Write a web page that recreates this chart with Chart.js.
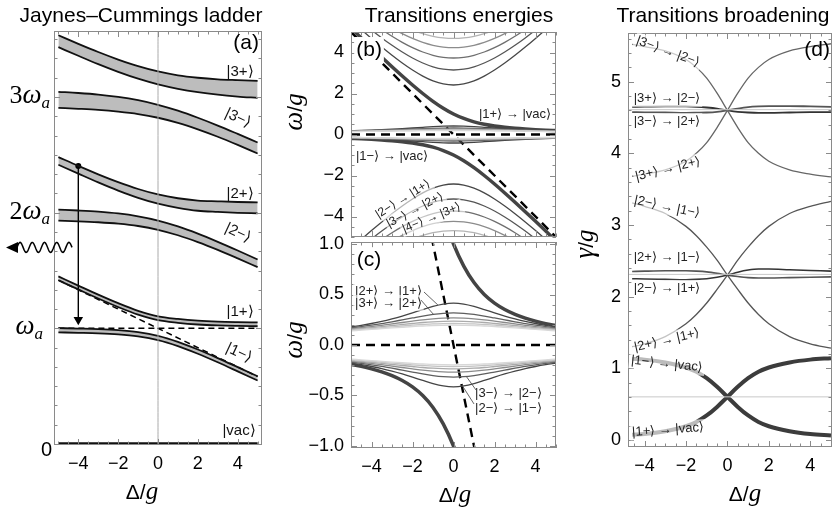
<!DOCTYPE html>
<html>
<head>
<meta charset="utf-8">
<script src="https://cdn.jsdelivr.net/npm/chart.js@4.4.1/dist/chart.umd.min.js"></script>
<style>
  body { margin: 0; background: #fff; }
  #wrap { position: relative; width: 835px; height: 510px; overflow: hidden; }
  canvas { position: absolute; }
</style>
</head>
<body>
<div id="wrap">
  <canvas id="ladder" width="280" height="510" style="left:0;top:0"></canvas>
  <canvas id="energiesWide" width="295" height="240" style="left:280px;top:0"></canvas>
  <canvas id="energiesZoom" width="295" height="284" style="left:280px;top:226px"></canvas>
  <canvas id="broadening" width="260" height="510" style="left:575px;top:0"></canvas>
</div>
<script>
const SANS = "'Liberation Sans', Arial, sans-serif";
const SERIF = "'Liberation Serif', 'Times New Roman', serif";
const MINUS = "\u2212";

// ---- (a) Jaynes–Cummings ladder: band edges in units of g (omega_a = 12 g) ----
const omegaA = 12;
const detA = [-5, -4, -3, -2, -1, 0, 1, 2, 3, 4, 5];
const up3p = [42.41, 41.52, 40.67, 39.89, 39.20, 38.65, 38.25, 38.00, 37.84, 37.75, 37.67];
const lo3p = [41.17, 40.28, 39.41, 38.61, 37.90, 37.31, 36.85, 36.50, 36.24, 36.05, 35.91];
const up3m = [36.54, 36.42, 36.26, 36.02, 35.67, 35.19, 34.58, 33.85, 33.04, 32.17, 31.28];
const lo3m = [34.88, 34.78, 34.66, 34.48, 34.23, 33.85, 33.32, 32.65, 31.88, 31.03, 30.14];
const up2p = [29.77, 28.85, 27.98, 27.17, 26.46, 25.89, 25.50, 25.26, 25.18, 25.11, 25.07];
const lo2p = [28.97, 28.05, 27.14, 26.29, 25.54, 24.93, 24.50, 24.20, 24.08, 23.99, 23.93];
const up2m = [24.32, 24.23, 24.11, 23.92, 23.62, 23.19, 22.58, 21.83, 20.98, 20.08, 19.15];
const lo2m = [23.18, 23.11, 23.01, 22.86, 22.62, 22.23, 21.66, 20.95, 20.14, 19.26, 18.35];
const up1p = [17.39, 16.44, 15.50, 14.61, 13.82, 13.25, 12.98, 12.80, 12.70, 12.65, 12.62];
const lo1p = [16.99, 16.04, 15.10, 14.21, 13.42, 12.85, 12.58, 12.40, 12.30, 12.25, 12.22];
const up1m = [12.03, 11.98, 11.92, 11.81, 11.60, 11.22, 10.60, 9.81, 8.92, 7.98, 7.03];
const lo1m = [11.59, 11.54, 11.48, 11.37, 11.16, 10.78, 10.16, 9.37, 8.48, 7.54, 6.59];
const endsA = [-5, 5];
const vacA = [0, 0];
const atomA = [12, 12];
const cavityA = [17, 7];
const dropX = [-4, -4];
const dropY = [28.85, 12.9];

// ---- (b),(c) transition energies omega/g ----
const detB = [-5, -4.5, -4, -3.5, -3, -2.5, -2, -1.5, -1, -0.5, 0, 0.5, 1, 1.5, 2, 2.5, 3, 3.5, 4, 4.5, 5];
const oneUp = [5.193, 4.712, 4.236, 3.766, 3.303, 2.851, 2.414, 2.000, 1.618, 1.281, 1.000, 0.781, 0.618, 0.500, 0.414, 0.351, 0.303, 0.266, 0.236, 0.212, 0.193];
const oneDown = [-0.193, -0.212, -0.236, -0.266, -0.303, -0.351, -0.414, -0.500, -0.618, -0.781, -1.000, -1.281, -1.618, -2.000, -2.414, -2.851, -3.303, -3.766, -4.236, -4.712, -5.193];
const cross2 = [5.565, 5.120, 4.686, 4.266, 3.864, 3.488, 3.146, 2.851, 2.618, 2.467, 2.414, 2.467, 2.618, 2.851, 3.146, 3.488, 3.864, 4.266, 4.686, 5.120, 5.565];
const cross3 = [5.914, 5.497, 5.095, 4.712, 4.353, 4.024, 3.732, 3.488, 3.303, 3.186, 3.146, 3.186, 3.303, 3.488, 3.732, 4.024, 4.353, 4.712, 5.095, 5.497, 5.914];
const cross4 = [6.243, 5.850, 5.474, 5.120, 4.791, 4.495, 4.236, 4.024, 3.864, 3.766, 3.732, 3.766, 3.864, 4.024, 4.236, 4.495, 4.791, 5.120, 5.474, 5.850, 6.243];
const cross5 = [6.556, 6.183, 5.828, 5.497, 5.193, 4.920, 4.686, 4.495, 4.353, 4.266, 4.236, 4.266, 4.353, 4.495, 4.686, 4.920, 5.193, 5.497, 5.828, 6.183, 6.556];
const cross6 = [6.854, 6.498, 6.162, 5.850, 5.565, 5.312, 5.095, 4.920, 4.791, 4.712, 4.686, 4.712, 4.791, 4.920, 5.095, 5.312, 5.565, 5.850, 6.162, 6.498, 6.854];
const same2 = [0.180, 0.195, 0.213, 0.234, 0.259, 0.287, 0.318, 0.351, 0.382, 0.405, 0.414, 0.405, 0.382, 0.351, 0.318, 0.287, 0.259, 0.234, 0.213, 0.195, 0.180];
const same3 = [0.169, 0.182, 0.196, 0.212, 0.230, 0.249, 0.268, 0.287, 0.303, 0.314, 0.318, 0.314, 0.303, 0.287, 0.268, 0.249, 0.230, 0.212, 0.196, 0.182, 0.169];
const same4 = [0.160, 0.171, 0.183, 0.195, 0.209, 0.223, 0.236, 0.249, 0.259, 0.266, 0.268, 0.266, 0.259, 0.249, 0.236, 0.223, 0.209, 0.195, 0.183, 0.171, 0.160];
const same5 = [0.153, 0.162, 0.172, 0.182, 0.193, 0.203, 0.213, 0.223, 0.230, 0.234, 0.236, 0.234, 0.230, 0.223, 0.213, 0.203, 0.193, 0.182, 0.172, 0.162, 0.153];
const same6 = [0.146, 0.154, 0.162, 0.171, 0.180, 0.188, 0.196, 0.203, 0.209, 0.212, 0.213, 0.212, 0.209, 0.203, 0.196, 0.188, 0.180, 0.171, 0.162, 0.154, 0.146];
const same7 = [0.140, 0.147, 0.154, 0.162, 0.169, 0.176, 0.183, 0.188, 0.193, 0.195, 0.196, 0.195, 0.193, 0.188, 0.183, 0.176, 0.169, 0.162, 0.154, 0.147, 0.140];
const endsB = [-5, 5];
const atomB = [0, 0];
const cavityB = [5, -5];

// ---- (d) transition broadening gamma/g ----
const detD = [-4.6, -4, -3, -2, -1.5, -1, -0.5, 0, 0.5, 1, 1.5, 2, 3, 4, 5];
const w1p = [0.07, 0.08, 0.12, 0.19, 0.25, 0.34, 0.46, 0.60, 0.74, 0.86, 0.95, 1.01, 1.08, 1.12, 1.14];
const w1m = [1.13, 1.12, 1.08, 1.01, 0.95, 0.86, 0.74, 0.60, 0.46, 0.34, 0.25, 0.19, 0.12, 0.08, 0.06];
const w2pp = [1.30, 1.34, 1.44, 1.62, 1.75, 1.91, 2.10, 2.30, 2.51, 2.69, 2.85, 2.98, 3.16, 3.26, 3.33];
const w2mm = [3.31, 3.26, 3.16, 2.98, 2.85, 2.69, 2.51, 2.30, 2.10, 1.91, 1.75, 1.62, 1.44, 1.34, 1.28];
const w2pm = [2.35, 2.355, 2.36, 2.36, 2.355, 2.345, 2.325, 2.30, 2.28, 2.265, 2.26, 2.26, 2.265, 2.27, 2.275];
const w2mp = [2.25, 2.245, 2.24, 2.235, 2.24, 2.25, 2.27, 2.30, 2.34, 2.37, 2.385, 2.385, 2.375, 2.365, 2.355];
const w3pp = [3.68, 3.71, 3.77, 3.89, 4.00, 4.15, 4.36, 4.60, 4.84, 5.05, 5.20, 5.31, 5.43, 5.49, 5.53];
const w3mm = [5.52, 5.49, 5.43, 5.31, 5.20, 5.05, 4.84, 4.60, 4.36, 4.15, 4.00, 3.89, 3.77, 3.71, 3.67];
const w3pm = [4.65, 4.652, 4.655, 4.655, 4.65, 4.64, 4.625, 4.60, 4.58, 4.57, 4.565, 4.565, 4.57, 4.575, 4.575];
const w3mp = [4.575, 4.572, 4.57, 4.565, 4.567, 4.57, 4.58, 4.60, 4.625, 4.645, 4.655, 4.66, 4.66, 4.655, 4.65];
const endsD = [-4.8, 5.05];
const mean1 = [0.60, 0.60];
const mean2 = [2.31, 2.31];
const mean3 = [4.61, 4.61];

// ---------- helpers ----------
function pts(xs, ys) { return xs.map((x, i) => ({ x: x, y: ys[i] })); }
function line(xs, ys, color, width, extra) {
  return Object.assign({
    data: pts(xs, ys), borderColor: color, borderWidth: width,
    pointRadius: 0, fill: false, cubicInterpolationMode: 'monotone'
  }, extra || {});
}
function mirror(arr) { return arr.map(v => -v); } // lower family is the mirror image of the upper one
function fmt(v) { return (v < -1e-9 ? MINUS : '') + Math.abs(v); }
function evenLabel(v) {
  const r = Math.round(v);
  return (Math.abs(v - r) < 1e-6 && r % 2 === 0) ? fmt(r) : '';
}

function frame(chart, xt, yt) {
  const { ctx, chartArea: a, scales: { x, y } } = chart;
  ctx.save();
  ctx.strokeStyle = '#8a8a8a';
  ctx.lineWidth = 1;
  ctx.strokeRect(a.left + 0.5, a.top + 0.5, a.right - a.left - 1, a.bottom - a.top - 1);
  ctx.beginPath();
  const marks = (scale, minor, major, horiz) => {
    const k0 = Math.ceil(scale.min / minor - 1e-9), k1 = Math.floor(scale.max / minor + 1e-9);
    for (let k = k0; k <= k1; k++) {
      const v = k * minor;
      const big = Math.abs(v / major - Math.round(v / major)) < 1e-6;
      const len = big ? 6 : 3.5;
      const p = Math.round(scale.getPixelForValue(v)) + 0.5;
      if (horiz) {
        ctx.moveTo(p, a.bottom); ctx.lineTo(p, a.bottom - len);
        ctx.moveTo(p, a.top); ctx.lineTo(p, a.top + len);
      } else {
        ctx.moveTo(a.left, p); ctx.lineTo(a.left + len, p);
        ctx.moveTo(a.right, p); ctx.lineTo(a.right - len, p);
      }
    }
  };
  marks(x, xt[0], xt[1], true);
  marks(y, yt[0], yt[1], false);
  ctx.stroke();
  ctx.restore();
}

function ket(chart, text, xv, yv, opt) {
  const { ctx, scales: { x, y } } = chart;
  const o = Object.assign({ size: 13, angle: 0, align: 'center', bg: null, color: '#222' }, opt || {});
  ctx.save();
  ctx.translate(x.getPixelForValue(xv), y.getPixelForValue(yv));
  ctx.rotate(o.angle * Math.PI / 180);
  ctx.font = o.size + 'px ' + SANS;
  const w = ctx.measureText(text).width;
  const x0 = o.align === 'left' ? 0 : -w / 2;
  if (o.bg) {
    ctx.fillStyle = o.bg;
    ctx.fillRect(x0 - 2, -o.size * 0.62, w + 4, o.size * 1.24);
  }
  ctx.fillStyle = o.color;
  ctx.textBaseline = 'middle';
  ctx.textAlign = 'left';
  ctx.fillText(text, x0, 0);
  ctx.restore();
}

function leader(chart, p0, p1) {
  const { ctx, scales: { x, y } } = chart;
  ctx.save();
  ctx.strokeStyle = '#555';
  ctx.lineWidth = 0.9;
  ctx.beginPath();
  ctx.moveTo(x.getPixelForValue(p0[0]), y.getPixelForValue(p0[1]));
  ctx.lineTo(x.getPixelForValue(p1[0]), y.getPixelForValue(p1[1]));
  ctx.stroke();
  ctx.restore();
}

function mixed(ctx, parts, px, py, align, angle) {
  ctx.save();
  ctx.translate(px, py);
  if (angle) ctx.rotate(angle);
  let w = 0;
  parts.forEach(p => { ctx.font = p[1]; w += ctx.measureText(p[0]).width; });
  let cx = align === 'right' ? -w : (align === 'center' ? -w / 2 : 0);
  ctx.fillStyle = '#000';
  ctx.textBaseline = 'alphabetic';
  ctx.textAlign = 'left';
  parts.forEach(p => {
    ctx.font = p[1];
    ctx.fillText(p[0], cx, p[2] || 0);
    cx += ctx.measureText(p[0]).width;
  });
  ctx.restore();
}

function title(ctx, text, cx) {
  ctx.save();
  ctx.font = '21px ' + SANS;
  ctx.fillStyle = '#000';
  ctx.textAlign = 'center';
  ctx.textBaseline = 'alphabetic';
  ctx.fillText(text, cx, 22);
  ctx.restore();
}

const deltaTitle = [['\u0394/', '21px ' + SANS], ['g', 'italic 25px ' + SERIF]];
function perG(sym) { return [[sym, 'italic 27px ' + SERIF], ['/', '21px ' + SANS], ['g', 'italic 25px ' + SERIF]]; }

function options(o) {
  return {
    responsive: false, animation: false, events: [],
    layout: { padding: o.pad },
    plugins: {
      legend: { display: false }, tooltip: { enabled: false },
      filler: { drawTime: 'beforeDatasetsDraw', propagate: false }
    },
    scales: {
      x: {
        type: 'linear', min: o.x[0], max: o.x[1], display: o.xShow,
        grid: { display: false, drawTicks: false }, border: { display: false },
        ticks: {
          stepSize: o.x[2], includeBounds: false, autoSkip: false, maxRotation: 0,
          padding: 8, color: '#000', font: { family: SANS, size: 18 }, callback: evenLabel
        },
        afterFit: s => { if (o.xH) s.height = o.xH; s.paddingLeft = 0; s.paddingRight = 0; }
      },
      y: {
        type: 'linear', min: o.y[0], max: o.y[1],
        grid: { display: false, drawTicks: false }, border: { display: false },
        ticks: {
          display: !!o.yLabel, stepSize: o.y[2], includeBounds: false, autoSkip: false,
          padding: 7, color: '#000', font: { family: SANS, size: 18 }, callback: o.yLabel || (() => '')
        },
        afterFit: s => { s.width = o.yW; s.paddingTop = 0; s.paddingBottom = 0; }
      }
    }
  };
}

// ---------- (a) ladder ----------
const bandEdge = '#111';
function band(lo, up) {
  return [
    line(detA, lo, bandEdge, 1.8),
    line(detA, up, bandEdge, 1.8, { fill: '-1', backgroundColor: '#bdbdbd' })
  ];
}
const ladderSets = [
  line([0, 0], [-0.1, 42.85], '#aaa', 1),
  line(endsA, vacA, '#111', 3.5),
  ...band(lo3p, up3p), ...band(lo3m, up3m),
  ...band(lo2p, up2p), ...band(lo2m, up2m),
  ...band(lo1p, up1p), ...band(lo1m, up1m),
  line(endsA, atomA, '#000', 1.5, { borderDash: [6, 4] }),
  line(endsA, cavityA, '#000', 1.5, { borderDash: [6, 4] }),
  line(dropX, dropY, '#000', 1.4, {
    pointRadius: [3, 5.5], pointStyle: ['circle', 'triangle'], pointRotation: [0, 180],
    pointBackgroundColor: '#000', pointBorderColor: '#000', pointBorderWidth: 0
  })
];

const ladderDeco = {
  id: 'ladderDeco',
  afterDatasetsDraw(chart) {
    const { ctx, chartArea: a, scales: { y } } = chart;
    frame(chart, [0.5, 2], [2, 12]);
    // energy axis labels
    [[3, '3'], [2, '2'], [1, '']].forEach(([n, pre]) => {
      const parts = [];
      if (pre) parts.push([pre, '26px ' + SERIF]);
      parts.push(['\u03C9', 'italic 27px ' + SERIF], ['a', 'italic 17px ' + SERIF, 5]);
      mixed(ctx, parts, n === 1 ? a.left - 11 : a.left - 4, y.getPixelForValue(n * omegaA) + 6, 'right');
    });
    mixed(ctx, [['0', '20px ' + SANS]], a.left - 2, y.getPixelForValue(0) + 12, 'right');
    // state labels
    const k = { size: 15, color: '#111' };
    ket(chart, '(a)', 4.42, 41.6, { size: 21, color: '#000' });
    ket(chart, '|3+\u27E9', 4.12, 38.6, k);
    ket(chart, '|3\u2212\u27E9', 4.02, 33.8, Object.assign({ angle: 25 }, k));
    ket(chart, '|2+\u27E9', 4.12, 26.0, k);
    ket(chart, '|2\u2212\u27E9', 4.02, 21.9, Object.assign({ angle: 25 }, k));
    ket(chart, '|1+\u27E9', 4.12, 13.7, k);
    ket(chart, '|1\u2212\u27E9', 4.07, 9.44, Object.assign({ angle: 25 }, k));
    ket(chart, '|vac\u27E9', 4.07, 1.35, k);
    // emitted photon
    const wy = y.getPixelForValue(20.4);
    const x0 = a.left + 18, x1 = 17, lam = (x0 - x1) / 4.5;
    ctx.save();
    ctx.strokeStyle = '#000'; ctx.fillStyle = '#000'; ctx.lineWidth = 1.5;
    ctx.beginPath();
    for (let px = x0; px >= x1; px -= 0.5) {
      const py = wy - 5 * Math.sin((x0 - px) / lam * 2 * Math.PI);
      if (px === x0) ctx.moveTo(px, py); else ctx.lineTo(px, py);
    }
    ctx.stroke();
    ctx.beginPath();
    ctx.moveTo(6, wy); ctx.lineTo(18, wy - 5.5); ctx.lineTo(18, wy + 5.5); ctx.closePath();
    ctx.fill();
    ctx.restore();
    title(ctx, 'Jaynes\u2013Cummings ladder', 141);
    mixed(ctx, deltaTitle, 142, a.bottom + 54, 'center');
  }
};

new Chart(document.getElementById('ladder'), {
  type: 'line',
  data: { datasets: ladderSets },
  options: options({ pad: { left: 0, top: 31, right: 18, bottom: 0 }, x: [-5.22, 5.22, 2], xShow: true, xH: 65, y: [-0.1, 42.85, 2], yW: 54 }),
  plugins: [ladderDeco]
});

// ---------- (b), (c) transition energies ----------
function transitionSets() {
  const sets = [];
  [[cross6, '#b4b4b4'], [cross5, '#8c8c8c'], [cross4, '#6e6e6e'], [cross3, '#555'], [cross2, '#474747']].forEach(([arr, c]) => {
    sets.push(line(detB, arr, c, 1.3), line(detB, mirror(arr), c, 1.3));
  });
  [[same7, '#d8d8d8'], [same6, '#c4c4c4'], [same5, '#ababab'], [same4, '#8a8a8a'], [same3, '#5e5e5e'], [same2, '#444']].forEach(([arr, c]) => {
    sets.push(line(detB, arr, c, 1.3), line(detB, mirror(arr), c, 1.3));
  });
  sets.push(line(detB, oneUp, '#444', 3.5), line(detB, oneDown, '#444', 3.5));
  sets.push(line(endsB, atomB, '#000', 2.4, { borderDash: [9, 6] }));
  sets.push(line(endsB, cavityB, '#000', 2.4, { borderDash: [9, 6] }));
  return sets;
}
const soft = 'rgba(255,255,255,0.6)';

const wideDeco = {
  id: 'wideDeco',
  afterDatasetsDraw(chart) {
    const { ctx } = chart;
    frame(chart, [0.5, 2], [0.5, 2]);
    ket(chart, '(b)', -4.12, 4.12, { size: 21, color: '#000', bg: '#fff' });
    ket(chart, '|1+\u27E9 \u2192 |vac\u27E9', 3.0, 1.0);
    ket(chart, '|1\u2212\u27E9 \u2192 |vac\u27E9', -3.0, -1.05);
    ket(chart, '|2\u2212\u27E9 \u2192 |1+\u27E9', -2.46, -3.15, { angle: -32, bg: soft, size: 12 });
    ket(chart, '|3\u2212\u27E9 \u2192 |2+\u27E9', -1.88, -3.68, { angle: -28, bg: soft, size: 12 });
    ket(chart, '|4\u2212\u27E9 \u2192 |3+\u27E9', -1.05, -4.07, { angle: -22, bg: soft, size: 12 });
    title(ctx, 'Transitions energies', 179);
    mixed(ctx, perG('\u03C9'), 22, 112, 'center', -Math.PI / 2);
  }
};

new Chart(document.getElementById('energiesWide'), {
  type: 'line',
  data: { datasets: transitionSets() },
  options: options({
    pad: { left: 0, top: 32, right: 19, bottom: 3 }, x: [-5, 5, 1], xShow: false,
    y: [-5, 5, 1], yW: 71, yLabel: evenLabel
  }),
  plugins: [wideDeco]
});

const zoomDeco = {
  id: 'zoomDeco',
  afterDatasetsDraw(chart) {
    const { ctx, chartArea: a } = chart;
    frame(chart, [0.5, 2], [0.1, 0.5]);
    ket(chart, '(c)', -4.12, 0.84, { size: 21, color: '#000', bg: '#fff' });
    ket(chart, '|2+\u27E9 \u2192 |1+\u27E9', -4.8, 0.535, { align: 'left', bg: soft });
    ket(chart, '|3+\u27E9 \u2192 |2+\u27E9', -4.8, 0.416, { align: 'left', bg: soft });
    leader(chart, [-1.44, 0.525], [-0.76, 0.396]);
    leader(chart, [-1.59, 0.446], [-0.95, 0.297]);
    ket(chart, '|3\u2212\u27E9 \u2192 |2\u2212\u27E9', 1.05, -0.475, { align: 'left', bg: soft });
    ket(chart, '|2\u2212\u27E9 \u2192 |1\u2212\u27E9', 1.05, -0.624, { align: 'left', bg: soft });
    leader(chart, [1.10, -0.446], [0.61, -0.307]);
    leader(chart, [1.0, -0.584], [0.41, -0.396]);
    mixed(ctx, perG('\u03C9'), 22, 114, 'center', -Math.PI / 2);
    mixed(ctx, deltaTitle, 175, a.bottom + 54, 'center');
  }
};

new Chart(document.getElementById('energiesZoom'), {
  type: 'line',
  data: { datasets: transitionSets() },
  options: options({
    pad: { left: 0, top: 16, right: 19, bottom: 0 }, x: [-5, 5, 1], xShow: true, xH: 62,
    y: [-1.02, 1.02, 0.5], yW: 71,
    yLabel: v => (Math.abs(v * 2 - Math.round(v * 2)) < 1e-6 ? (v < -1e-9 ? MINUS : '') + Math.abs(v).toFixed(1) : '')
  }),
  plugins: [zoomDeco]
});

// ---------- (d) broadening ----------
const broadSets = [
  line(endsD, mean1, '#c8c8c8', 1),
  line(endsD, mean2, '#c8c8c8', 1),
  line(endsD, mean3, '#c8c8c8', 1),
  line(detD, w3mm, '#666', 1.3),
  line(detD, w3pp, '#666', 1.3),
  line(detD, w3mp, '#555', 1.8),
  line(detD, w3pm, '#333', 1.8),
  line(detD, w2mm, '#555', 1.3),
  line(detD, w2pp, '#555', 1.3),
  line(detD, w2mp, '#333', 1.6),
  line(detD, w2pm, '#555', 1.6),
  line(detD, w1m, '#3c3c3c', 4),
  line(detD, w1p, '#3c3c3c', 4)
];

const broadDeco = {
  id: 'broadDeco',
  afterDatasetsDraw(chart) {
    const { ctx, chartArea: a } = chart;
    frame(chart, [0.5, 2], [0.2, 1]);
    const s = { bg: 'rgba(255,255,255,0.65)' };
    ket(chart, '(d)', 4.33, 5.44, { size: 21, color: '#000' });
    ket(chart, '|3\u2212\u27E9 \u2192 |2\u2212\u27E9', -2.87, 5.42, Object.assign({ angle: 20 }, s));
    ket(chart, '|3+\u27E9 \u2192 |2\u2212\u27E9', -2.92, 4.76, s);
    ket(chart, '|3\u2212\u27E9 \u2192 |2+\u27E9', -2.92, 4.45, s);
    ket(chart, '|3+\u27E9 \u2192 |2+\u27E9', -2.87, 3.78, Object.assign({ angle: -14 }, s));
    ket(chart, '|2\u2212\u27E9 \u2192 |1\u2212\u27E9', -2.92, 3.25, Object.assign({ angle: 12 }, s));
    ket(chart, '|2+\u27E9 \u2192 |1\u2212\u27E9', -2.92, 2.54, s);
    ket(chart, '|2\u2212\u27E9 \u2192 |1+\u27E9', -2.92, 2.12, s);
    ket(chart, '|2+\u27E9 \u2192 |1+\u27E9', -2.92, 1.39, Object.assign({ angle: -13 }, s));
    ket(chart, '|1\u2212\u27E9 \u2192 |vac\u27E9', -2.92, 1.06, Object.assign({ angle: 6 }, s));
    ket(chart, '|1+\u27E9 \u2192 |vac\u27E9', -2.87, 0.14, Object.assign({ angle: -4 }, s));
    title(ctx, 'Transitions broadening', 148);
    mixed(ctx, perG('\u03B3'), 18, 244, 'center', -Math.PI / 2);
    mixed(ctx, deltaTitle, 170, a.bottom + 54, 'center');
  }
};

new Chart(document.getElementById('broadening'), {
  type: 'line',
  data: { datasets: broadSets },
  options: options({
    pad: { left: 0, top: 33, right: 3, bottom: 0 }, x: [-4.8, 5.05, 2], xShow: true, xH: 63,
    y: [-0.1, 5.68, 1], yW: 53,
    yLabel: v => (Math.abs(v - Math.round(v)) < 1e-6 ? String(Math.round(v)) : '')
  }),
  plugins: [broadDeco]
});
</script>
</body>
</html>
